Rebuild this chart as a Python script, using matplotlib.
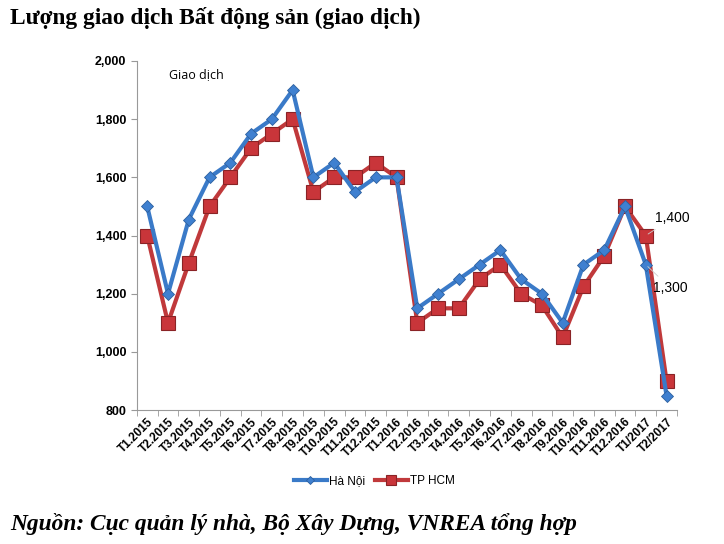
import matplotlib.pyplot as plt
import numpy as np

months = ['T1.2015', 'T2.2015', 'T3.2015', 'T4.2015', 'T5.2015', 'T6.2015', 'T7.2015',
          'T8.2015', 'T9.2015', 'T10.2015', 'T11.2015', 'T12.2015', 'T1.2016', 'T2.2016',
          'T3.2016', 'T4.2016', 'T5.2016', 'T6.2016', 'T7.2016', 'T8.2016', 'T9.2016',
          'T10.2016', 'T11.2016', 'T12.2016', 'T1/2017', 'T2/2017']
ha_noi = [1500, 1200, 1455, 1600, 1650, 1750, 1800, 1900, 1600, 1650, 1550, 1600, 1600,
          1150, 1200, 1250, 1300, 1350, 1250, 1200, 1100, 1300, 1350, 1500, 1300, 850]
tp_hcm = [1400, 1100, 1305, 1500, 1600, 1700, 1750, 1800, 1550, 1600, 1600, 1650, 1600,
          1100, 1150, 1150, 1250, 1300, 1200, 1160, 1050, 1225, 1330, 1500, 1400, 900]

plt.rcParams['font.family'] = ['Liberation Sans', 'DejaVu Sans']

fig = plt.figure(figsize=(7.24, 5.44), dpi=100)
ax = fig.add_axes([0.189, 0.246, 0.746, 0.642])
x = np.arange(len(months))

ax.plot(x, ha_noi, color='#3a7ac8', lw=3, marker='D', ms=6.5, mfc='#3f80d0',
        mec='#2d5f9e', mew=0.6, label='Hà Nội', zorder=3)
ax.plot(x, tp_hcm, color='#c0393b', lw=3, marker='s', ms=10, mfc='#c9353a',
        mec='#8a2326', mew=0.8, label='TP HCM', zorder=2)

ax.set_xlim(-0.5, len(months) - 0.5)
ax.set_ylim(800, 2000)
ax.set_yticks(range(800, 2001, 200))
ax.set_yticklabels([f'{v:,}' for v in range(800, 2001, 200)], fontsize=9, fontweight='bold')
ax.set_xticks(x)
ax.set_xticklabels(months, rotation=45, ha='right', rotation_mode='anchor',
                   fontsize=8.5, fontweight='bold')
ax.tick_params(axis='x', length=0, pad=4)
ax.set_xticks(np.arange(-0.5, len(months)), minor=True)
ax.tick_params(axis='x', which='minor', length=4, color='#999999')
ax.tick_params(axis='y', length=4, color='#999999')

for s in ['top', 'right']:
    ax.spines[s].set_visible(False)
for s in ['left', 'bottom']:
    ax.spines[s].set_color('#999999')

ax.text(0.06, 0.95, 'Giao dịch', transform=ax.transAxes, fontsize=9,
        family=['Open Sans', 'DejaVu Sans'])

ax.annotate(f'{tp_hcm[24]:,}', xy=(x[24], tp_hcm[24]), xytext=(x[24] + 0.45, 1460),
            fontsize=10, va='center', arrowprops=dict(arrowstyle='-', color='#cccccc', lw=0.6))
ax.annotate(f'{ha_noi[24]:,}', xy=(x[24], ha_noi[24]), xytext=(x[24] + 0.35, 1220),
            fontsize=10, va='center', arrowprops=dict(arrowstyle='-', color='#cccccc', lw=0.6))

ax.legend(loc='upper center', bbox_to_anchor=(0.44, -0.155), ncol=2, frameon=False,
          fontsize=8.5, handlelength=2.8, columnspacing=0.8, handletextpad=0.2,
          markerscale=0.7)

fig.text(0.014, 0.955, 'Lượng giao dịch Bất động sản (giao dịch)', fontsize=16.8,
         fontweight='bold', family=['Liberation Serif', 'DejaVu Serif'])
fig.text(0.014, 0.025, 'Nguồn: Cục quản lý nhà, Bộ Xây Dựng, VNREA tổng hợp', fontsize=16.8,
         fontweight='bold', style='italic', family=['Liberation Serif', 'DejaVu Serif'])

fig.savefig('out.png', dpi=100)
